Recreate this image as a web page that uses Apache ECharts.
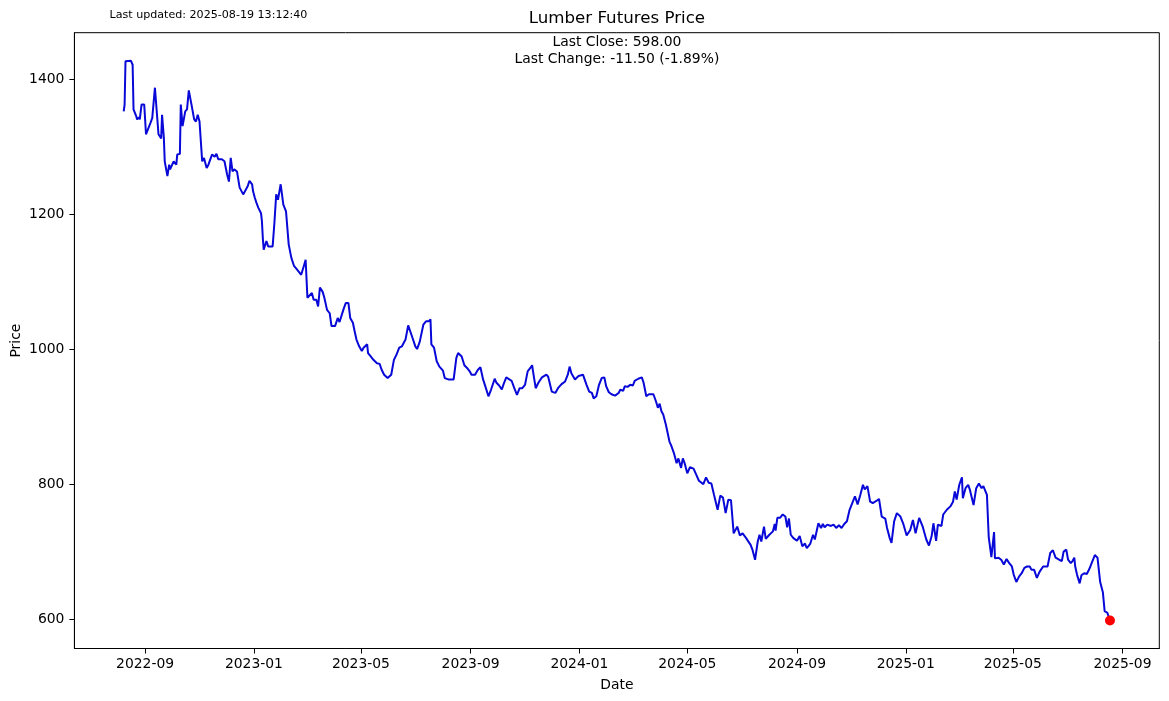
<!DOCTYPE html>
<html>
<head>
<meta charset="utf-8">
<script src="https://cdn.jsdelivr.net/npm/echarts@6/dist/echarts.min.js"></script>
<style>
html,body{margin:0;padding:0;background:#fff;}
#chart{width:1169px;height:701px;}
</style>
</head>
<body>
<div id="chart"></div>
<script>
const chartTitle = 'Lumber Futures Price';
const updatedText = 'Last updated: 2025-08-19 13:12:40';
const closeText = 'Last Close: 598.00';
const changeText = 'Last Change: -11.50 (-1.89%)';
const xTickLabels = ['2022-09','2023-01','2023-05','2023-09','2024-01','2024-05','2024-09','2025-01','2025-05','2025-09'];
const yTicks = [600, 800, 1000, 1200, 1400];

const dates = [
'2022-08-08','2022-08-09','2022-08-10','2022-08-16','2022-08-18','2022-08-19','2022-08-22','2022-08-23','2022-08-25','2022-08-26',
'2022-08-28','2022-08-31','2022-09-02','2022-09-07','2022-09-09','2022-09-12','2022-09-16','2022-09-19','2022-09-20','2022-09-22',
'2022-09-23','2022-09-26','2022-09-28','2022-09-29','2022-10-03','2022-10-06','2022-10-07','2022-10-10','2022-10-11','2022-10-13',
'2022-10-16','2022-10-18','2022-10-20','2022-10-23','2022-10-26','2022-10-28','2022-10-30','2022-11-01','2022-11-04','2022-11-06',
'2022-11-09','2022-11-11','2022-11-15','2022-11-18','2022-11-20','2022-11-22','2022-11-26','2022-11-29','2022-12-02','2022-12-04',
'2022-12-06','2022-12-08','2022-12-10','2022-12-13','2022-12-16','2022-12-20','2022-12-22','2022-12-25','2022-12-27','2022-12-30',
'2022-12-31','2023-01-02','2023-01-04','2023-01-06','2023-01-09','2023-01-10','2023-01-11','2023-01-12','2023-01-15','2023-01-17',
'2023-01-22','2023-01-24','2023-01-26','2023-01-28','2023-01-31','2023-02-03','2023-02-06','2023-02-09','2023-02-12','2023-02-15',
'2023-02-20','2023-02-23','2023-02-26','2023-02-28','2023-03-02','2023-03-04','2023-03-07','2023-03-09','2023-03-12','2023-03-14',
'2023-03-16','2023-03-19','2023-03-21','2023-03-24','2023-03-27','2023-03-29','2023-04-02','2023-04-05','2023-04-07','2023-04-09',
'2023-04-12','2023-04-14','2023-04-17','2023-04-19','2023-04-22','2023-04-24','2023-04-26','2023-04-29','2023-05-02','2023-05-04',
'2023-05-08','2023-05-09','2023-05-12','2023-05-15','2023-05-19','2023-05-22','2023-05-24','2023-05-27','2023-05-31','2023-06-04',
'2023-06-07','2023-06-10','2023-06-13','2023-06-16','2023-06-20','2023-06-23','2023-06-25','2023-06-28','2023-07-01','2023-07-03',
'2023-07-06','2023-07-10','2023-07-13','2023-07-16','2023-07-18','2023-07-19','2023-07-22','2023-07-25','2023-07-28','2023-08-01',
'2023-08-03','2023-08-07','2023-08-13','2023-08-16','2023-08-18','2023-08-22','2023-08-25','2023-08-28','2023-08-31','2023-09-02',
'2023-09-06','2023-09-09','2023-09-12','2023-09-15','2023-09-17','2023-09-21','2023-09-24','2023-09-28','2023-09-30','2023-10-03',
'2023-10-06','2023-10-08','2023-10-11','2023-10-13','2023-10-17','2023-10-20','2023-10-23','2023-10-26','2023-10-29','2023-11-01',
'2023-11-04','2023-11-07','2023-11-09','2023-11-10','2023-11-13','2023-11-16','2023-11-20','2023-11-25','2023-11-27','2023-12-01',
'2023-12-05','2023-12-08','2023-12-12','2023-12-16','2023-12-19','2023-12-21','2023-12-23','2023-12-27','2023-12-31','2024-01-02',
'2024-01-05','2024-01-09','2024-01-12','2024-01-15','2024-01-17','2024-01-20','2024-01-23','2024-01-26','2024-01-29','2024-01-31',
'2024-02-03','2024-02-06','2024-02-10','2024-02-14','2024-02-16','2024-02-19','2024-02-21','2024-02-24','2024-02-27','2024-03-01',
'2024-03-03','2024-03-07','2024-03-11','2024-03-13','2024-03-16','2024-03-19','2024-03-24','2024-03-27','2024-03-29','2024-03-31',
'2024-04-02','2024-04-04','2024-04-07','2024-04-11','2024-04-13','2024-04-16','2024-04-19','2024-04-21','2024-04-24','2024-04-26',
'2024-04-28','2024-05-01','2024-05-04','2024-05-08','2024-05-11','2024-05-14','2024-05-19','2024-05-22','2024-05-25','2024-05-28',
'2024-05-31','2024-06-04','2024-06-07','2024-06-10','2024-06-13','2024-06-16','2024-06-19','2024-06-22','2024-06-26','2024-06-29',
'2024-07-02','2024-07-06','2024-07-08','2024-07-11','2024-07-13','2024-07-16','2024-07-19','2024-07-21','2024-07-23','2024-07-26',
'2024-07-28','2024-08-01','2024-08-05','2024-08-07','2024-08-08','2024-08-10','2024-08-13','2024-08-16','2024-08-19','2024-08-21',
'2024-08-23','2024-08-25','2024-08-28','2024-09-01','2024-09-04','2024-09-07','2024-09-10','2024-09-12','2024-09-16','2024-09-19',
'2024-09-21','2024-09-25','2024-09-28','2024-09-30','2024-10-02','2024-10-05','2024-10-09','2024-10-12','2024-10-15','2024-10-18',
'2024-10-21','2024-10-24','2024-10-27','2024-10-30','2024-11-02','2024-11-05','2024-11-08','2024-11-11','2024-11-14','2024-11-16',
'2024-11-19','2024-11-22','2024-11-25','2024-11-29','2024-12-02','2024-12-05','2024-12-09','2024-12-11','2024-12-14','2024-12-16',
'2024-12-19','2024-12-22','2024-12-26','2024-12-29','2025-01-02','2025-01-06','2025-01-09','2025-01-12','2025-01-16','2025-01-20',
'2025-01-24','2025-01-27','2025-01-30','2025-02-01','2025-02-03','2025-02-04','2025-02-06','2025-02-10','2025-02-12','2025-02-16',
'2025-02-20','2025-02-23','2025-02-25','2025-02-27','2025-03-02','2025-03-05','2025-03-06','2025-03-09','2025-03-12','2025-03-14',
'2025-03-18','2025-03-21','2025-03-24','2025-03-27','2025-03-29','2025-04-02','2025-04-04','2025-04-07','2025-04-09','2025-04-10',
'2025-04-11','2025-04-15','2025-04-18','2025-04-21','2025-04-24','2025-04-27','2025-04-30','2025-05-02','2025-05-05','2025-05-08',
'2025-05-11','2025-05-14','2025-05-17','2025-05-20','2025-05-22','2025-05-25','2025-05-28','2025-05-31','2025-06-02','2025-06-04',
'2025-06-09','2025-06-12','2025-06-15','2025-06-18','2025-06-22','2025-06-25','2025-06-27','2025-06-30','2025-07-02','2025-07-05',
'2025-07-07','2025-07-09','2025-07-10','2025-07-12','2025-07-15','2025-07-17','2025-07-20','2025-07-23','2025-07-25','2025-07-27',
'2025-07-30','2025-08-01','2025-08-04','2025-08-07','2025-08-10','2025-08-12','2025-08-15','2025-08-18'
];

const prices = [
1352,1362,1426,1427,1421,1355,1345,1340,1343,1340,
1362,1362,1318,1335,1342,1387,1318,1312,1347,1313,
1278,1256,1273,1266,1278,1273,1288,1289,1362,1330,
1352,1355,1383,1362,1340,1337,1347,1337,1278,1283,
1268,1273,1288,1285,1289,1281,1281,1278,1258,1248,
1283,1263,1266,1263,1239,1229,1231,1241,1249,1244,
1234,1224,1216,1209,1201,1189,1164,1147,1160,1152,
1152,1187,1229,1221,1244,1214,1204,1155,1135,1123,
1115,1110,1123,1132,1076,1077,1083,1073,1073,1063,
1091,1085,1076,1058,1053,1034,1034,1046,1040,1041,
1061,1068,1068,1046,1039,1026,1014,1004,997,1002,
1007,994,989,984,979,978,970,962,957,962,
984,992,1002,1004,1014,1035,1034,1016,1004,1000,
1011,1036,1041,1041,1044,1007,1002,982,974,968,
957,955,955,987,994,989,976,972,967,962,
962,969,973,955,947,930,940,956,950,946,
940,948,958,957,953,942,932,942,942,947,
967,972,976,967,942,950,958,962,959,937,
935,942,948,952,962,974,964,955,960,959,
962,947,937,935,927,930,947,957,958,945,
936,933,931,935,940,938,945,944,947,946,
953,956,958,950,930,933,933,922,913,919,
908,903,888,863,857,846,831,838,824,838,
831,816,825,823,814,805,800,810,802,801,
784,762,783,780,757,777,776,727,737,724,
727,720,716,710,703,688,715,725,715,737,
719,725,730,741,731,750,750,755,752,736,
749,725,720,716,723,708,712,705,712,725,
718,742,735,741,736,740,738,740,735,739,
735,741,745,762,772,782,770,784,799,792,
797,774,772,775,778,752,749,735,720,713,
745,757,752,742,724,732,747,727,750,737,
718,709,723,742,743,716,740,738,755,762,
767,774,789,777,799,810,779,794,799,791,
769,794,801,794,797,784,722,692,690,729,
690,691,688,681,689,683,678,666,655,663,
668,676,678,678,673,673,661,670,668,678,
678,698,702,691,688,686,700,703,688,683,
686,691,678,666,653,665,668,667,672,678,
688,695,691,655,640,612,609.5,598
];

const chart = echarts.init(document.getElementById('chart'), null, {renderer: 'canvas'});

const t0 = Date.parse(dates[0]);
const t1 = Date.parse(dates[dates.length - 1]);
const tSpan = t1 - t0;
const pMin = Math.min.apply(null, prices);
const pMax = Math.max.apply(null, prices);
const pSpan = pMax - pMin;
const xTickValues = xTickLabels.map(function (s) { return Date.parse(s + '-01'); });
const lineData = dates.map(function (d, i) { return [Date.parse(d), prices[i]]; });
const lastPoint = [[Date.parse(dates[dates.length - 1]), prices[prices.length - 1]]];

const FONT = '"DejaVu Sans", "Liberation Sans", sans-serif';

function fmtMonth(v) {
  const d = new Date(v);
  return d.getUTCFullYear() + '-' + String(d.getUTCMonth() + 1).padStart(2, '0');
}

const option = {
  backgroundColor: '#ffffff',
  animation: false,
  grid: {
    left: 74.4, right: 9.7, top: 32.7, bottom: 52.5,
    show: true, borderColor: '#000', borderWidth: 1, backgroundColor: 'transparent'
  },
  xAxis: {
    type: 'value',
    min: t0 - 0.05 * tSpan,
    max: t1 + 0.05 * tSpan,
    scale: true,
    splitLine: {show: false},
    axisLine: {show: true, lineStyle: {color: '#000', width: 1}},
    axisTick: {show: true, inside: false, length: 5, lineStyle: {color: '#000', width: 1}, customValues: xTickValues},
    axisLabel: {
      show: true, margin: 9, color: '#000', fontFamily: FONT, fontSize: 13.9,
      customValues: xTickValues, formatter: fmtMonth, hideOverlap: false,
      showMinLabel: true, showMaxLabel: true
    }
  },
  yAxis: {
    type: 'value',
    min: pMin - 0.05 * pSpan,
    max: pMax + 0.05 * pSpan,
    scale: true,
    splitLine: {show: false},
    axisLine: {show: true, lineStyle: {color: '#000', width: 1}},
    axisTick: {show: true, inside: false, length: 5, lineStyle: {color: '#000', width: 1}, customValues: yTicks},
    axisLabel: {
      show: true, margin: 10, color: '#000', fontFamily: FONT, fontSize: 13.9,
      customValues: yTicks, formatter: function (v) { return String(Math.round(v)); },
      showMinLabel: true, showMaxLabel: true
    }
  },
  series: [
    {
      type: 'line',
      data: lineData,
      showSymbol: false,
      symbol: 'none',
      lineStyle: {color: '#0808d8', width: 2},
      itemStyle: {color: '#0808d8'},
      z: 2
    },
    {
      type: 'scatter',
      data: lastPoint,
      symbol: 'circle',
      symbolSize: 10,
      itemStyle: {color: '#ff0000', opacity: 1},
      z: 3
    }
  ],
  graphic: [
    {type: 'text', x: 616.9, y: 18.5, style: {text: chartTitle, font: '16.67px ' + FONT, fill: '#000', textAlign: 'center', textVerticalAlign: 'middle'}},
    {type: 'text', x: 616.9, y: 42.5, style: {text: closeText, font: '13.9px ' + FONT, fill: '#000', textAlign: 'center', textVerticalAlign: 'middle'}},
    {type: 'text', x: 616.9, y: 59.5, style: {text: changeText, font: '13.9px ' + FONT, fill: '#000', textAlign: 'center', textVerticalAlign: 'middle'}},
    {type: 'text', x: 109.5, y: 15.5, style: {text: updatedText, font: '11.1px ' + FONT, fill: '#000', textAlign: 'left', textVerticalAlign: 'middle'}},
    {type: 'text', x: 616.9, y: 685, style: {text: 'Date', font: '13.9px ' + FONT, fill: '#000', textAlign: 'center', textVerticalAlign: 'middle'}},
    {type: 'text', x: 16, y: 340.6, rotation: Math.PI / 2, style: {text: 'Price', font: '13.9px ' + FONT, fill: '#000', textAlign: 'center', textVerticalAlign: 'middle'}}
  ]
};

chart.setOption(option);
</script>
</body>
</html>
